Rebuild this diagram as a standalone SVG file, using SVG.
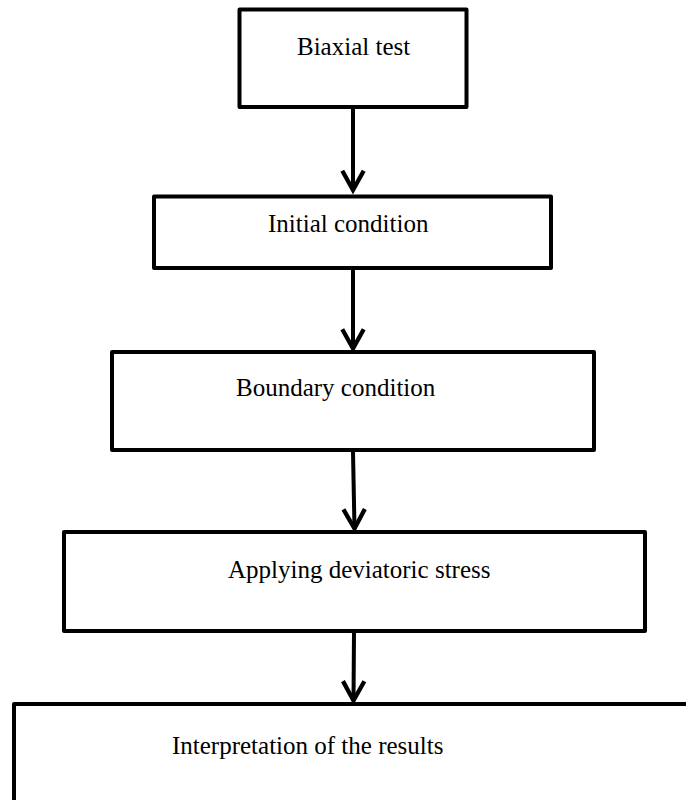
<svg xmlns="http://www.w3.org/2000/svg" width="686" height="800" viewBox="0 0 686 800">
  <style>
    .box { fill: #ffffff; stroke: #000000; stroke-width: 4; stroke-linejoin: round; }
    .label { font-family: "Liberation Serif", "Times New Roman", serif; font-size: 25px; fill: #000000; }
    .link { fill: none; stroke: #000000; stroke-width: 4; }
  </style>
  <defs>
    <marker id="chevron" markerUnits="userSpaceOnUse" markerWidth="30" markerHeight="30" viewBox="-22 -14 26 28" refX="0" refY="0" orient="auto">
      <path d="M -18 -10 L 0 0 L -18 10" fill="none" stroke="#000000" stroke-width="4" stroke-linejoin="miter" stroke-miterlimit="3"/>
    </marker>
  </defs>
  <rect width="686" height="800" fill="#ffffff"/>

  <!-- flow steps -->
  <g id="biaxial-test">
    <rect class="box" x="239.5" y="9.5" width="227" height="97.5"/>
    <text class="label" x="297" y="55">Biaxial test</text>
  </g>
  <g id="initial-condition">
    <rect class="box" x="154" y="196.5" width="397" height="71.5"/>
    <text class="label" x="268" y="232">Initial condition</text>
  </g>
  <g id="boundary-condition">
    <rect class="box" x="112" y="352" width="482" height="98"/>
    <text class="label" x="236" y="396">Boundary condition</text>
  </g>
  <g id="deviatoric-stress">
    <rect class="box" x="64" y="532" width="581" height="99"/>
    <text class="label" x="228" y="578">Applying deviatoric stress</text>
  </g>
  <g id="interpretation">
    <rect class="box" x="14" y="704" width="700" height="200"/>
    <text class="label" x="172" y="754">Interpretation of the results</text>
  </g>

  <!-- connectors -->
  <g id="connectors">
    <line class="link" x1="353" y1="109" x2="353" y2="190" marker-end="url(#chevron)"/>
    <line class="link" x1="353" y1="270" x2="353" y2="348.5" marker-end="url(#chevron)"/>
    <line class="link" x1="353" y1="452" x2="354.5" y2="528.5" marker-end="url(#chevron)"/>
    <line class="link" x1="354" y1="633" x2="353.5" y2="700.5" marker-end="url(#chevron)"/>
  </g>
</svg>
